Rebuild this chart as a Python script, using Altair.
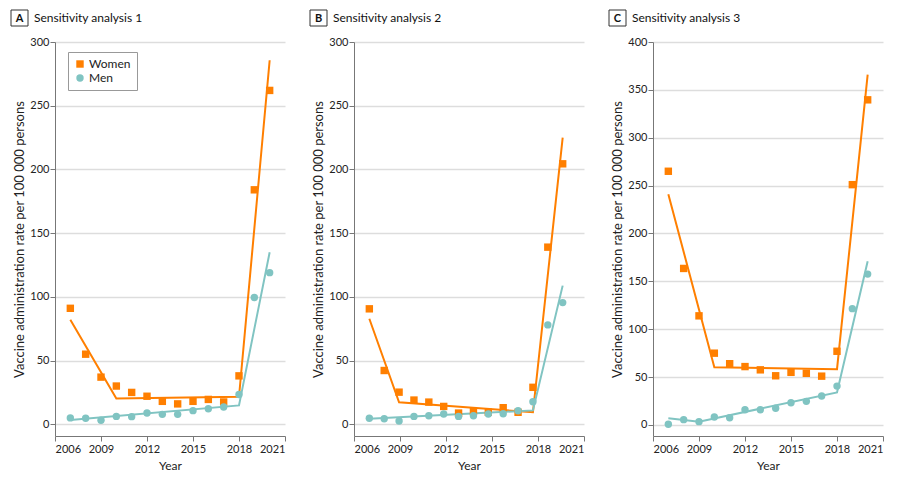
import altair as alt
import pandas as pd

ORANGE = "#FF7F00"
TEAL = "#80C4C2"
SEXES = ["Women", "Men"]

years = [2007, 2008, 2009, 2010, 2011, 2012, 2013, 2014, 2015, 2016, 2017, 2018, 2019, 2020]
years_b = [2007.0, 2007.97, 2008.94, 2009.91, 2010.88, 2011.85, 2012.82, 2013.79,
           2014.76, 2015.73, 2016.70, 2017.67, 2018.64, 2019.61]

# Panel A
a_women = [91, 55, 37, 30, 25, 22, 18, 16, 18, 19.5, 17.5, 38, 184, 262]
a_men = [5, 4.7, 3.1, 6.2, 6, 8.9, 7.8, 7.8, 10.7, 12.2, 13.5, 23.4, 99.5, 119]
a_fit_women_x = [2007, 2010, 2018, 2020]
a_fit_women = [82, 20.3, 21.6, 285.7]
a_fit_men_x = [2007, 2018, 2020]
a_fit_men = [3.4, 14.8, 135]

# Panel B
b_women = [90.6, 42.2, 25.2, 19, 17.4, 14, 8.8, 10.1, 9.5, 13, 9.4, 29, 139, 204.4]
b_men = [4.7, 4.4, 2.6, 6.2, 6.7, 8, 6.2, 6.7, 8, 8.3, 10.6, 17.7, 78, 95.5]
b_fit_women_x = [2007.0, 2008.94, 2017.67, 2019.61]
b_fit_women = [82.8, 17.2, 9.4, 225]
b_fit_men_x = [2007.0, 2017.67, 2019.61]
b_fit_men = [4.4, 10.9, 108.8]

# Panel C
c_women = [265, 163.5, 114, 75, 64, 61, 57.6, 51.4, 55, 54, 51, 77, 251, 339.6]
c_men = [0.7, 5.6, 3.5, 8.3, 7.6, 16, 16, 17.4, 23.3, 24.7, 30.2, 40.6, 121.5, 157.6]
c_fit_women_x = [2007, 2010, 2018, 2020]
c_fit_women = [241, 60.4, 58.3, 366]
c_fit_men_x = [2007, 2009, 2018, 2020]
c_fit_men = [7, 3.5, 34, 171]

x_ticks = [2006, 2009, 2012, 2015, 2018, 2021]
y_ticks_ab = [0, 50, 100, 150, 200, 250, 300]
y_ticks_c = [0, 50, 100, 150, 200, 250, 300, 350, 400]

Y_TITLE = "Vaccine administration rate per 100 000 persons"


def panel(letter, title, xs, women, men, fwx, fwy, fmx, fmy, ydom, yticks, show_legend):
    pts = pd.DataFrame({
        "Year": list(xs) + list(xs),
        "Rate": list(women) + list(men),
        "Sex": ["Women"] * len(xs) + ["Men"] * len(xs),
        "ord": [0] * len(xs) + [1] * len(xs),
    })
    fit_w = pd.DataFrame({"Year": list(fwx), "Rate": list(fwy)})
    fit_m = pd.DataFrame({"Year": list(fmx), "Rate": list(fmy)})
    xenc = alt.X("Year:Q", scale=alt.Scale(domain=[2006, 2021], nice=False, zero=False),
                 axis=alt.Axis(values=x_ticks, format="d", grid=False, title="Year"))
    yenc = alt.Y("Rate:Q", scale=alt.Scale(domain=ydom, nice=False, zero=False),
                 axis=alt.Axis(values=yticks, format="d", grid=True, title=Y_TITLE))
    cscale = alt.Scale(domain=SEXES, range=[ORANGE, TEAL])
    sscale = alt.Scale(domain=SEXES, range=["square", "circle"])
    if show_legend:
        leg = alt.Legend(title=None, orient="none", legendX=13, legendY=10,
                         strokeColor="#999999", fillColor="white", padding=6,
                         labelFontSize=12, symbolSize=55, rowPadding=2,
                         labelColor="#222222", labelOffset=3)
    else:
        leg = None
    line_w = alt.Chart(fit_w).mark_line(strokeWidth=2, color=ORANGE).encode(x=xenc, y=yenc)
    line_m = alt.Chart(fit_m).mark_line(strokeWidth=2, color=TEAL).encode(x=xenc, y=yenc)
    points = alt.Chart(pts).mark_point(filled=True, size=55, opacity=1).encode(
        x=xenc, y=yenc,
        color=alt.Color("Sex:N", scale=cscale, legend=leg),
        shape=alt.Shape("Sex:N", scale=sscale, legend=leg),
        order=alt.Order("ord:Q"),
    )
    lab = pd.DataFrame({"letter": [letter], "title": [title]})
    box = alt.Chart(lab).mark_rect(fill="white", stroke="#333333", strokeWidth=1).encode(
        x=alt.value(-44), x2=alt.value(-27), y=alt.value(-32), y2=alt.value(-16)
    )
    let = alt.Chart(lab).mark_text(fontSize=11, fontWeight="bold", color="#111111",
                                   align="center", baseline="middle").encode(
        x=alt.value(-35.5), y=alt.value(-23.5), text="letter:N"
    )
    ttl = alt.Chart(lab).mark_text(fontSize=12, color="#111111",
                                   align="left", baseline="middle").encode(
        x=alt.value(-21), y=alt.value(-24), text="title:N"
    )
    return alt.layer(line_w, line_m, points, box, let, ttl).properties(width=230, height=394)


pa = panel("A", "Sensitivity analysis 1", years, a_women, a_men,
           a_fit_women_x, a_fit_women, a_fit_men_x, a_fit_men,
           [-9.2, 300], y_ticks_ab, True)
pb = panel("B", "Sensitivity analysis 2", years_b, b_women, b_men,
           b_fit_women_x, b_fit_women, b_fit_men_x, b_fit_men,
           [-9.2, 300], y_ticks_ab, False)
pc = panel("C", "Sensitivity analysis 3", years, c_women, c_men,
           c_fit_women_x, c_fit_women, c_fit_men_x, c_fit_men,
           [-11.5, 400], y_ticks_c, False)

chart = alt.hconcat(pa, pb, pc, spacing=23).resolve_scale(
    color="independent", shape="independent"
).resolve_legend(
    color="independent", shape="independent"
).properties(
    padding={"left": 2, "top": 1, "right": 0, "bottom": 0}
).configure(
    font="Lato"
).configure_view(
    stroke=None
).configure_legend(
    strokeColor="#999999", fillColor="white", padding=6, cornerRadius=0
).configure_axis(
    labelFont="Lato", titleFont="Lato", labelFontSize=11, titleFontSize=12,
    titleFontWeight="normal", labelColor="#222222", titleColor="#222222",
    domainColor="#777777", tickColor="#777777", tickSize=5, labelPadding=2,
    gridColor="#dddddd", gridWidth=1.5,
).configure_axisY(
    titlePadding=3, labelPadding=1, titleFontSize=13
).configure_axisX(
    titlePadding=6
)

chart.save("out.html", embed_options={"renderer": "svg", "actions": False})
